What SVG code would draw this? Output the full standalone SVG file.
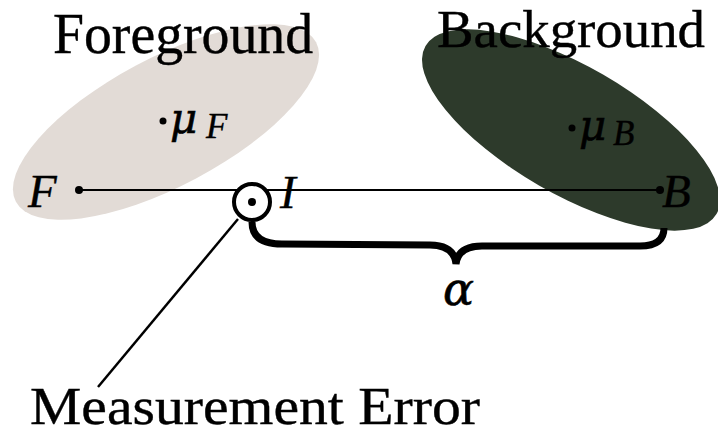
<svg xmlns="http://www.w3.org/2000/svg" width="718" height="435" viewBox="0 0 718 435">
<style>
.t{font-family:"Liberation Serif","DejaVu Serif",serif;fill:#000;stroke:#000;stroke-width:0.4}
.m{font-family:"Liberation Serif","DejaVu Serif",serif;font-style:italic;fill:#000;stroke:#000;stroke-width:0.4}
.g{font-family:"DejaVu Serif","Liberation Serif",serif;font-style:italic;fill:#000;stroke:#000;stroke-width:0.6}
.ln{stroke:#000;fill:none}
</style>
<rect width="718" height="435" fill="#fff"/>
<g id="foreground">
<ellipse cx="166" cy="122" rx="170" ry="64" transform="rotate(-28 166 122)" fill="#e2dbd6"/>
<text class="t" x="53" y="53" font-size="56" textLength="260" lengthAdjust="spacingAndGlyphs">Foreground</text>
<circle cx="163" cy="121" r="3.5"/>
<text class="g" x="170" y="133" font-size="42">μ</text>
<text class="m" x="206" y="138" font-size="35">F</text>
</g>
<g id="background">
<ellipse cx="571" cy="130" rx="168" ry="64" transform="rotate(30 571 130)" fill="#2d3a2b"/>
<text class="t" x="437" y="47" font-size="53" textLength="268" lengthAdjust="spacingAndGlyphs">Background</text>
<circle cx="572" cy="128" r="3.5"/>
<text class="g" x="579" y="140" font-size="42">μ</text>
<text class="m" x="613" y="145" font-size="35">B</text>
</g>
<g id="connectors">
<line class="ln" x1="79" y1="190" x2="660" y2="190" stroke-width="2"/>
<path class="ln" d="M252 222 Q252 244 282 244 L430 245 Q454 245 456 264 Q458 246 482 246 L640 246 Q664 246 664 228" stroke-width="7"/>
<line class="ln" x1="238" y1="219" x2="98" y2="387" stroke-width="2.5"/>
</g>
<g id="F">
<circle cx="79" cy="190" r="4"/>
<text class="m" x="28" y="207" font-size="47">F</text>
</g>
<g id="I">
<circle cx="252" cy="202" r="18" fill="#fff" stroke="#000" stroke-width="4"/>
<circle cx="252" cy="202" r="4"/>
<text class="m" x="280" y="208" font-size="47">I</text>
</g>
<g id="B">
<circle cx="660" cy="190" r="4"/>
<text class="m" x="662" y="207" font-size="47">B</text>
</g>
<g id="alpha">
<text class="g" x="443" y="305" font-size="46">α</text>
</g>
<g id="measurement">
<text class="t" x="30" y="424" font-size="53" textLength="450" lengthAdjust="spacingAndGlyphs">Measurement Error</text>
</g>
</svg>
